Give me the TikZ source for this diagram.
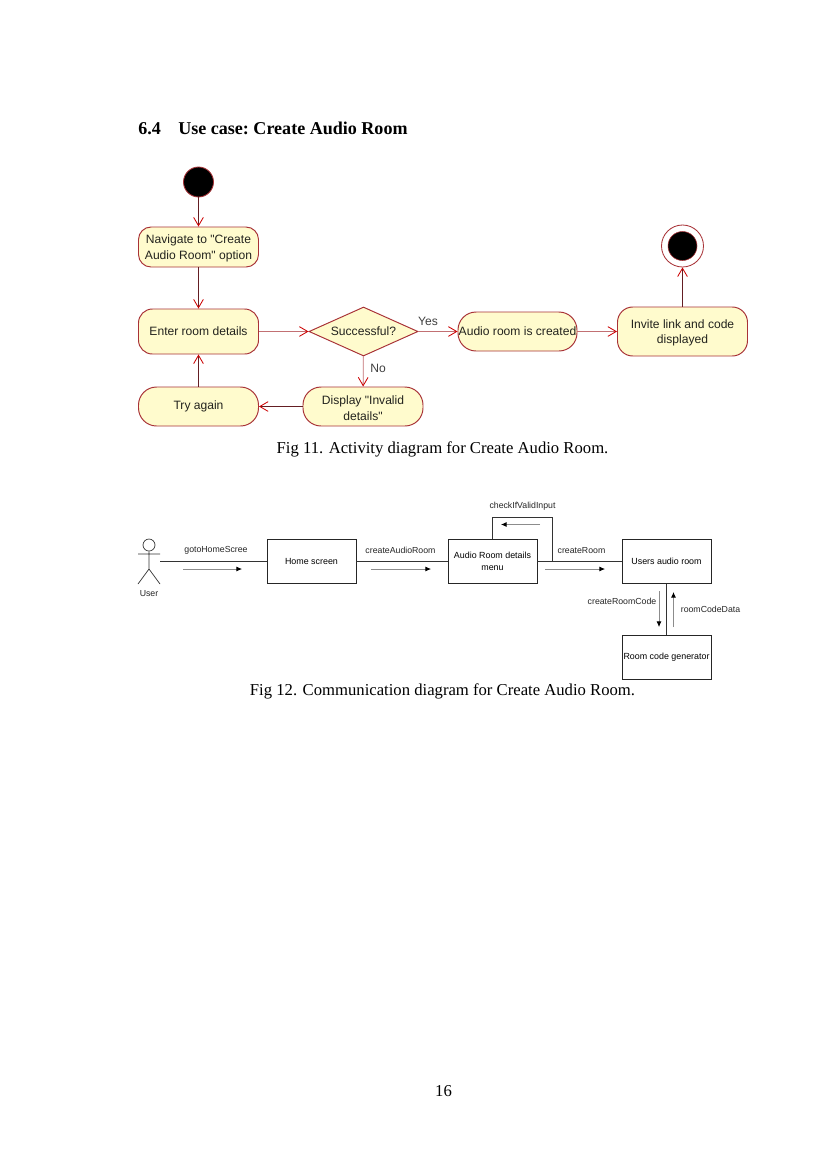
\documentclass[tikz,border=0pt]{standalone}
\usepackage{fontspec}
\setmainfont{Liberation Serif}
\newfontfamily\diag{Liberation Sans}
\usetikzlibrary{shapes.geometric,arrows.meta,calc}
\definecolor{umlred}{RGB}{168,50,55}
\definecolor{umlfill}{RGB}{255,251,205}
\definecolor{umldark}{RGB}{100,30,35}
\definecolor{txt}{RGB}{35,35,30}
\newcommand{\dn}{\rule{0pt}{8.5pt}}
\tikzset{
  x=0.72pt,y=-0.72pt,
  act/.style={draw=umlred,fill=umlfill,rounded corners=#1,line width=0.7pt,inner sep=0pt,align=center,font=\diag\fontsize{8.7}{11.2}\selectfont,text=txt},
  act/.default=9pt,
  flow/.style={draw=umldark,line width=0.6pt,-{Straight Barb[color=red!80!black,length=6pt,width=7pt,line width=0.6pt]}},
  lbl/.style={font=\diag\fontsize{8.7}{10}\selectfont,text=black!75,inner sep=0pt},
  box/.style={draw=black!85,fill=white,line width=0.5pt,inner sep=0pt,align=center,font=\diag\fontsize{6.4}{8.4}\selectfont},
  msg/.style={font=\diag\fontsize{6.3}{8}\selectfont,text=black!85,inner sep=0pt},
  link/.style={draw=black!80,line width=0.5pt},
  mflow/.style={draw=black!45,line width=0.5pt,-{Latex[black,length=4pt,width=3.5pt]}},
  captext/.style={font=\fontsize{12}{14}\selectfont,inner sep=0pt,text=black},
  headtext/.style={anchor=base west,font=\bfseries\fontsize{13}{16}\selectfont\frenchspacing,inner sep=0pt},
}
\begin{document}
\begin{tikzpicture}
\useasboundingbox[fill=white] (0,0) rectangle (827,1169);
\node[headtext] (h1) at (138,134) {6.4};
\node[headtext] (h2) at (178,134) {Use case: Create Audio Room};

% Activity diagram
\node[circle,draw=umlred,fill=black,minimum size=30*0.72pt,inner sep=0pt,line width=0.6pt] (start) at (198.5,182) {};
\node[act=9pt,minimum width=120*0.72pt,minimum height=40*0.72pt] (nav) at (198.5,247) {\dn Navigate to "Create\\Audio Room" option};
\node[act=10pt,minimum width=120*0.72pt,minimum height=45*0.72pt] (enter) at (198.5,331.5) {Enter room details};
\node[diamond,aspect=2.2,draw=umlred,fill=umlfill,line width=0.7pt,inner sep=0pt,minimum width=109*0.72pt,minimum height=49*0.72pt,font=\diag\fontsize{8.7}{10}\selectfont,text=txt] (dec) at (363.5,331.5) {Successful?};
\node[act=13pt,minimum width=120*0.72pt,minimum height=39*0.72pt] (try) at (198.5,406.5) {Try again};
\node[act=13pt,minimum width=120*0.72pt,minimum height=39*0.72pt] (disp) at (363,406.5) {\dn Display "Invalid\\details"};
\node[act=13pt,minimum width=119*0.72pt,minimum height=39*0.72pt] (aud) at (517.5,331.5) {Audio room is created};
\node[act=11pt,minimum width=130*0.72pt,minimum height=49*0.72pt] (inv) at (682.5,331.5) {\dn Invite link and code\\displayed};
\node[circle,draw=umlred,fill=white,minimum size=42*0.72pt,inner sep=0pt,line width=0.6pt] (end) at (682.5,246) {};
\node[circle,draw=umlred,fill=black,minimum size=29*0.72pt,inner sep=0pt,line width=0.4pt] (endin) at (682.5,246) {};
\draw[flow] (start) -- (nav);
\draw[flow] (nav) -- (enter);
\draw[flow,draw=umlred!70] (enter) -- (dec);
\draw[flow,draw=umlred!70] (dec) -- (aud);
\draw[flow,draw=umlred!70] (aud) -- (inv);
\draw[flow] (inv) -- (end);
\draw[flow,draw=umlred!70] (dec) -- (disp);
\draw[flow] (disp) -- (try);
\draw[flow] (try) -- (enter);
\node[lbl] (yes) at (428,321) {Yes};
\node[lbl] (no) at (378,368) {No};
\node[captext] (c1) at (442.5,449) {Fig 11. Activity diagram for Create Audio Room.};

% Communication diagram
\node[circle,draw=black!80,fill=white,minimum size=12*0.72pt,inner sep=0pt,line width=0.5pt] (head) at (149,545) {};
\coordinate (hip) at (149,569);
\coordinate (armL) at (138,554);
\coordinate (armR) at (160,554);
\coordinate (legL) at (138,584);
\coordinate (legR) at (160,584);
\coordinate (actor) at (160,561.5);
\draw[link] (head) -- (hip) (armL) -- (armR) (hip) -- (legL) (hip) -- (legR);
\node[msg] (user) at (149,593.5) {User};
\node[box,minimum width=89*0.72pt,minimum height=43.5*0.72pt] (home) at (311.5,561.5) {Home screen};
\node[box,minimum width=89*0.72pt,minimum height=43.5*0.72pt] (menu) at (492.5,561.5) {Audio Room details\\menu};
\node[box,minimum width=89*0.72pt,minimum height=43.5*0.72pt] (room) at (666.5,561.5) {Users audio room};
\node[box,minimum width=89*0.72pt,minimum height=44*0.72pt] (gen) at (666.5,657.5) {Room code generator};
\draw[link] (actor) -- (home.west);
\draw[link] (home) -- (menu);
\draw[link] (menu) -- (room);
\draw[link] (room) -- (gen);
\coordinate (lpA) at (492.5,517);
\coordinate (lpB) at (552,517);
\coordinate (lpC) at (552,561.5);
\draw[link] (menu.north) -- (lpA) -- (lpB) -- (lpC);
\coordinate (a1s) at (183,569); \coordinate (a1e) at (242,569);
\coordinate (a2s) at (371,569); \coordinate (a2e) at (431,569);
\coordinate (a3s) at (545,569); \coordinate (a3e) at (605,569);
\coordinate (a4s) at (540,524.5); \coordinate (a4e) at (501,524.5);
\coordinate (a5s) at (659,591); \coordinate (a5e) at (659,627);
\coordinate (a6s) at (673.5,627); \coordinate (a6e) at (673.5,592);
\draw[mflow] (a1s) -- (a1e);
\draw[mflow] (a2s) -- (a2e);
\draw[mflow] (a3s) -- (a3e);
\draw[mflow] (a4s) -- (a4e);
\draw[mflow] (a5s) -- (a5e);
\draw[mflow] (a6s) -- (a6e);
\node[msg] (m1) at (216,550.5) {gotoHomeScree};
\node[msg] (m2) at (400.5,550.5) {createAudioRoom};
\node[msg] (m3) at (581.5,550.5) {createRoom};
\node[msg] (m4) at (522.5,506.5) {checkIfValidInput};
\node[msg] (m5) at (622,601.5) {createRoomCode};
\node[msg] (m6) at (710.5,609.5) {roomCodeData};
\node[captext] (c2) at (442.5,691.5) {Fig 12. Communication diagram for Create Audio Room.};
\node[captext] (pg) at (443.5,1091.5) {16};
\end{tikzpicture}
\end{document}
